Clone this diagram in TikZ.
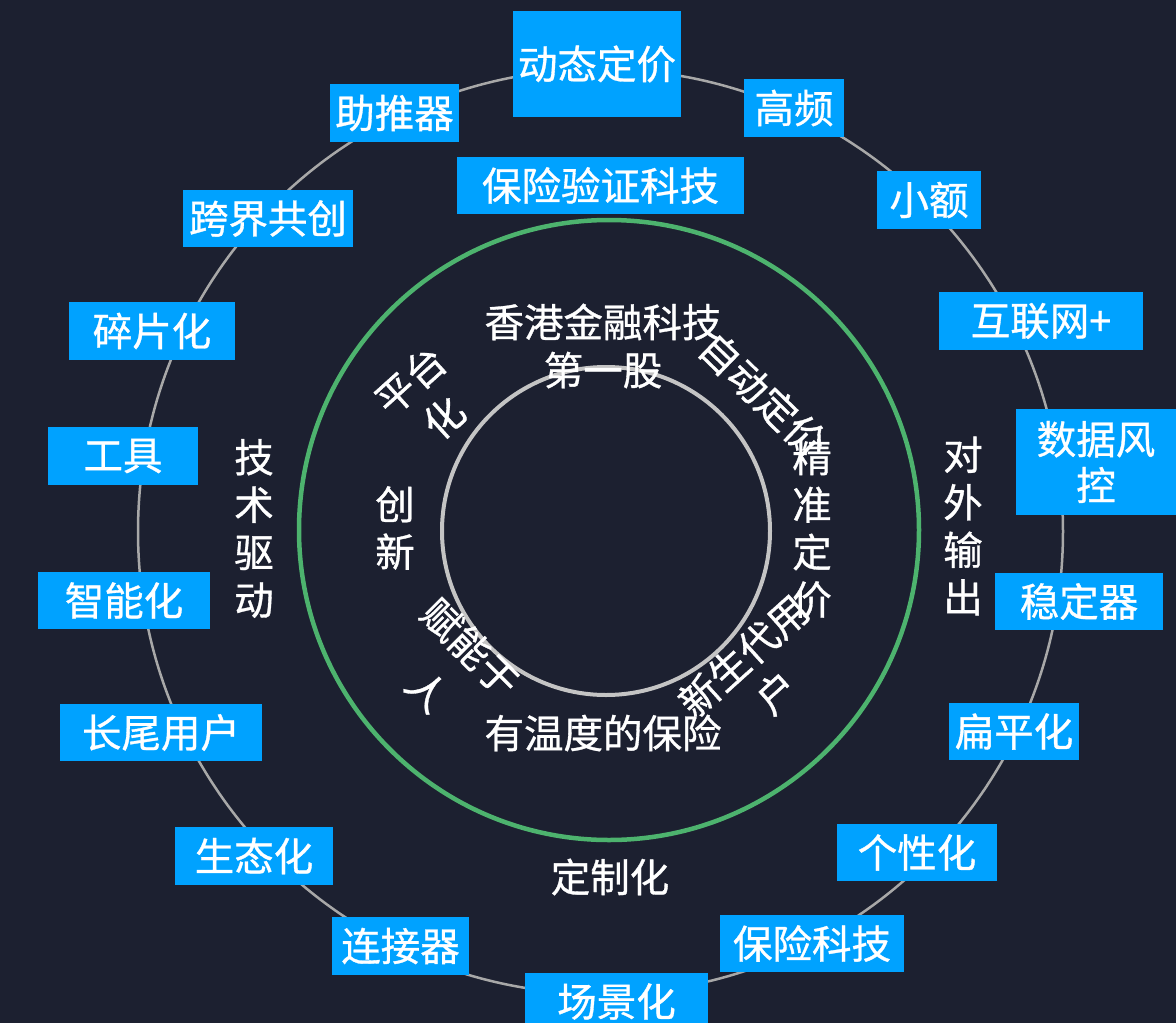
\documentclass[tikz,border=0pt]{standalone}
\usepackage{fontspec}
\setmainfont{Noto Sans CJK SC}[FakeBold=0.8]
\definecolor{bg}{HTML}{1C2030}
\definecolor{boxblue}{HTML}{00A2FF}
\definecolor{ringgray}{HTML}{A8A8A8}
\definecolor{ringgreen}{HTML}{4DB36E}
\definecolor{innergray}{HTML}{C4C4C4}
\tikzset{
  lbl/.style={text=white, font=\fontsize{39.5}{48}\selectfont, inner sep=0pt, align=center},
  boxlbl/.style={lbl, fill=boxblue},
  vert/.style={lbl, font=\fontsize{39.5}{47.5}\selectfont},
}
\begin{document}
\begin{tikzpicture}[x=1pt,y=-1pt]
\fill[bg] (0,0) rectangle (1176,1023);
\clip (0,0) rectangle (1176,1023);
% rings
\draw[ringgray, line width=2.5pt] (600.5,531.5) circle[radius=462.5];
\draw[ringgreen, line width=4.5pt] (609,530) circle[radius=310];
\draw[innergray, line width=4pt] (606,531) circle[radius=164];
% boxes
\node[boxlbl, minimum width=168pt, minimum height=106pt] (dtdj) at (597,64) {动态定价};
\node[boxlbl, minimum width=100pt, minimum height=58pt] (gp) at (794,108) {高频};
\node[boxlbl, minimum width=129pt, minimum height=58pt] (ztq) at (394.5,113) {助推器};
\node[boxlbl, minimum width=287pt, minimum height=57pt] (bxyz) at (600.5,185.5) {保险验证科技};
\node[boxlbl, minimum width=170pt, minimum height=57pt] (kjgc) at (268,218.5) {跨界共创};
\node[boxlbl, minimum width=104pt, minimum height=58pt] (xe) at (929,200) {小额};
\node[boxlbl, minimum width=204pt, minimum height=58pt] (hlw) at (1041,321) {互联网+};
\node[boxlbl, minimum width=166pt, minimum height=58pt] (spc) at (152,331) {碎片化};
\node[boxlbl, minimum width=150pt, minimum height=58pt] (gj) at (123,456) {工具};
\node[lbl, fill=boxblue, minimum width=160pt, minimum height=106pt, font=\fontsize{39.5}{46}\selectfont] (sjfk) at (1096,462) {数据风\\控};
\node[boxlbl, minimum width=168pt, minimum height=57pt] (wdq) at (1079,601.5) {稳定器};
\node[boxlbl, minimum width=172pt, minimum height=57pt] (znh) at (124,600.5) {智能化};
\node[boxlbl, minimum width=202pt, minimum height=57pt] (cwyh) at (161,732.5) {长尾用户};
\node[boxlbl, minimum width=130pt, minimum height=57pt] (bph) at (1014,731.5) {扁平化};
\node[boxlbl, minimum width=160pt, minimum height=57pt] (gxh) at (917,852.5) {个性化};
\node[boxlbl, minimum width=158pt, minimum height=58pt] (sth) at (254,856) {生态化};
\node[boxlbl, minimum width=137pt, minimum height=58pt] (ljq) at (400.5,946) {连接器};
\node[boxlbl, minimum width=184pt, minimum height=57pt] (bxkj) at (812,943.5) {保险科技};
\node[boxlbl, minimum width=183pt, minimum height=57pt] (cjh) at (616.5,1001.5) {场景化};
% plain labels
\node[vert] (jsqd) at (254,528.5) {技\\术\\驱\\动};
\node[vert] (dwsc) at (963,526) {对\\外\\输\\出};
\node[lbl] (dzh) at (610,877) {定制化};
\node[lbl] (xgjr) at (603,346) {香港金融科技\\第一股};
\node[lbl] (ywd) at (603,733) {有温度的保险};
\node[vert] (jzdj) at (812,528.5) {精\\准\\定\\价};
\node[vert] (cx) at (395,528) {创\\新};
\node[lbl, rotate=-44] (zddj) at (763,395) {自动定价};
\node[lbl, rotate=42, font=\fontsize{39.5}{50}\selectfont] (pth) at (427,399) {平台\\化};
\node[lbl, rotate=-45, font=\fontsize{39.5}{61}\selectfont] (fnyr) at (449,669) {赋能于\\人};
\node[lbl, rotate=42, font=\fontsize{39.5}{49}\selectfont] (xsd) at (760,674) {新生代用\\户};
\end{tikzpicture}
\end{document}
